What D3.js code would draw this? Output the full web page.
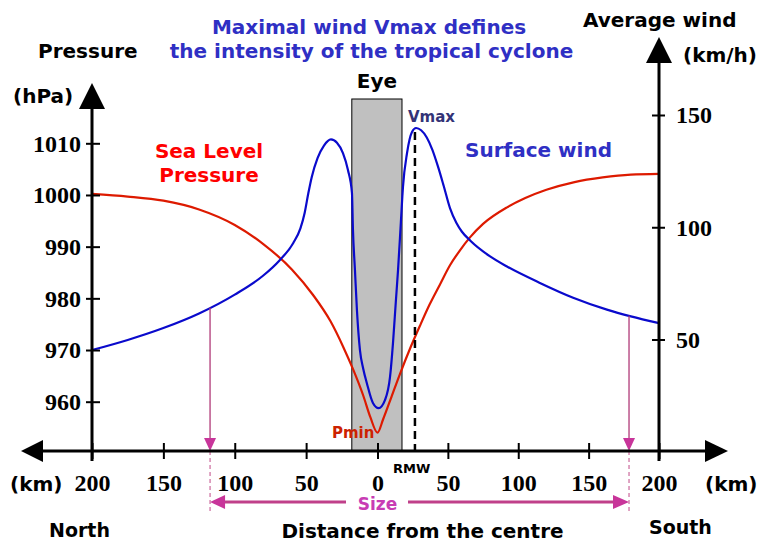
<!DOCTYPE html>
<html><head><meta charset="utf-8">
<script src="https://cdn.jsdelivr.net/npm/d3@7/dist/d3.min.js"></script>
<style>
html,body{margin:0;padding:0;background:#fff;}
svg{display:block;}
.sans{font-family:"DejaVu Sans",sans-serif;font-weight:bold;}
.num{font-family:"Liberation Serif","Times New Roman",serif;font-weight:bold;font-size:24px;}
</style>
</head><body>
<script>
// ---- data ----
const distanceTicks = [-200,-150,-100,-50,0,50,100,150,200];
const pressureTicks = [960,970,980,990,1000,1010];
const windTicks = [50,100,150];

const pressureDist = [-200,-175,-150,-125,-100,-80,-60,-45,-33,-24,-17,-10,-5,0,4,10,16,23,30,37,44.4,51.5,58.6,65.7,75,92,105,120,140,160,180,200];
const pressureValues = [1000.2,999.7,998.9,997.2,994.2,990.5,985.6,980.6,975.6,970.6,966.2,961.2,957.0,954.0,956.6,961.0,965.4,970.2,974.6,978.8,982.7,986.4,989.3,991.8,994.4,997.6,999.4,1001.0,1002.5,1003.4,1003.95,1004.1];

const windDist = [-200,-175,-150,-125,-100,-80,-69,-59,-54,-51,-48.5,-46,-42,-37.5,-32.6,-28.4,-24.2,-20.7,-17.9,-17.2,-15.8,-14.4,-12.3,-10,-7.4,-3.2,0.8,5.3,8.9,11,13.1,14.6,16.7,18.1,21,24.5,27.4,31,35,39,43,47,51.5,56,60,66,80,92,115,139,163,180,200];
const windValues = [45.3,49.8,55.1,61.6,70.0,78.5,85.0,93.0,99.5,106.5,115.0,122.5,130.8,136.4,139.1,137.6,133.0,125.5,115.3,99.0,81.0,63.0,45.3,37.0,30.4,21.7,19.4,23.0,33.3,48.4,67.6,81.0,103.3,118.0,133.1,142.4,144.2,143.2,140.0,134.5,127.0,118.5,108.5,102.0,98.0,94.0,87.0,82.5,75.3,68.6,63.3,60.3,57.3];

const eyeRange = [-18, 17.4];      // km
const rmwKm = 26.6;                 // radius of maximum wind
const vmaxValue = 144.2;
const sizeKm = [-117.3, 178.7];

// ---- chart ----
const W = 764, H = 544;
const svg = d3.select("body").append("svg").attr("width", W).attr("height", H);

const x = d3.scaleLinear().domain([-200,0,200]).range([92,377.5,659]);
const yP = d3.scaleLinear().domain([960,1010]).range([401.7,143.3]);
const yW = d3.scaleLinear().domain([50,150]).range([339.5,115]);
const axisY = 451;

const BLUE = "#0a0acc", RED = "#dd1a00", MAG = "#c8359a", TBLUE = "#2f2fc4";

function interp(xs, ys, v){
  for (let i=0;i<xs.length-1;i++){
    if (v>=xs[i] && v<=xs[i+1]) { const t=(v-xs[i])/(xs[i+1]-xs[i]); return ys[i]+t*(ys[i+1]-ys[i]); }
  }
  return ys[ys.length-1];
}

// Eye box
svg.append("rect")
  .attr("x", x(eyeRange[0])).attr("y", 99)
  .attr("width", x(eyeRange[1]) - x(eyeRange[0])).attr("height", axisY - 99)
  .attr("fill", "#c0c0c0").attr("stroke", "#000").attr("stroke-width", 1);

// curves
const pLine = d3.line().x((d,i)=>x(pressureDist[i])).y(d=>yP(d)).curve(d3.curveMonotoneX);
const wLine = d3.line().x((d,i)=>x(windDist[i])).y(d=>yW(d)).curve(d3.curveMonotoneX);

svg.append("path").attr("d", pLine(pressureValues)).attr("fill","none").attr("stroke",RED).attr("stroke-width",2.2);
svg.append("path").attr("d", wLine(windValues)).attr("fill","none").attr("stroke",BLUE).attr("stroke-width",2.2);

// RMW dashed line
svg.append("line").attr("x1", x(rmwKm)).attr("x2", x(rmwKm))
  .attr("y1", yW(vmaxValue)+4).attr("y2", axisY)
  .attr("stroke","#000").attr("stroke-width",2.5).attr("stroke-dasharray","8,5");

// Size markers (vertical)
sizeKm.forEach(k => {
  const xv = x(k);
  const yTop = yW(interp(windDist, windValues, k));
  svg.append("line").attr("x1",xv).attr("x2",xv).attr("y1",yTop).attr("y2",axisY-10)
    .attr("stroke","#b03a78").attr("stroke-width",1.3);
  svg.append("line").attr("x1",xv).attr("x2",xv).attr("y1",axisY).attr("y2",511)
    .attr("stroke","#c04a88").attr("stroke-width",1).attr("stroke-dasharray","4,3");
  svg.append("path").attr("d", `M${xv},${axisY} L${xv-6},${axisY-13} L${xv+6},${axisY-13} Z`).attr("fill",MAG);
});

// Size horizontal arrow
const sizeY = 502;
const xl = x(sizeKm[0]), xr = x(sizeKm[1]);
svg.append("line").attr("x1", xl+14).attr("x2", 346).attr("y1", sizeY).attr("y2", sizeY).attr("stroke","#c0408a").attr("stroke-width",3);
svg.append("line").attr("x1", 408).attr("x2", xr-14).attr("y1", sizeY).attr("y2", sizeY).attr("stroke","#c0408a").attr("stroke-width",3);
svg.append("path").attr("d", `M${xl},${sizeY} L${xl+15},${sizeY-7} L${xl+15},${sizeY+7} Z`).attr("fill",MAG);
svg.append("path").attr("d", `M${xr},${sizeY} L${xr-16},${sizeY-7} L${xr-16},${sizeY+7} Z`).attr("fill",MAG);
svg.append("text").attr("class","sans").attr("x", 377.5).attr("y", 510).attr("text-anchor","middle")
  .attr("font-size",17).attr("fill","#c83cb4").text("Size");

// ---- axes ----
svg.append("line").attr("x1",40).attr("x2",708).attr("y1",axisY).attr("y2",axisY).attr("stroke","#000").attr("stroke-width",3);
svg.append("path").attr("d",`M21,${axisY} L43,${axisY-11} L43,${axisY+11} Z`).attr("fill","#000");
svg.append("path").attr("d",`M728,${axisY} L705,${axisY-11} L705,${axisY+11} Z`).attr("fill","#000");

svg.append("line").attr("x1",x(-200)).attr("x2",x(-200)).attr("y1",106).attr("y2",461).attr("stroke","#000").attr("stroke-width",3);
svg.append("path").attr("d",`M${x(-200)},83 L${x(-200)-13},109 L${x(-200)+13},109 Z`).attr("fill","#000");
svg.append("line").attr("x1",x(200)).attr("x2",x(200)).attr("y1",60).attr("y2",461).attr("stroke","#000").attr("stroke-width",3);
svg.append("path").attr("d",`M${x(200)},37 L${x(200)-13},63 L${x(200)+13},63 Z`).attr("fill","#000");

// x axis ticks
const gx = svg.append("g").attr("transform",`translate(0,${axisY})`)
  .call(d3.axisBottom(x).tickValues(distanceTicks).tickFormat(d=>Math.abs(d)).tickSize(8));
gx.select(".domain").remove();
gx.selectAll(".tick line").attr("y1",-8).attr("y2",8).attr("stroke","#000").attr("stroke-width",2);
gx.selectAll(".tick text").attr("class","num").attr("y",40).attr("dy",null).attr("fill","#000");

// left pressure axis
const gl = svg.append("g").attr("transform",`translate(${x(-200)},0)`)
  .call(d3.axisLeft(yP).tickValues(pressureTicks).tickFormat(d3.format("d")).tickSize(6));
gl.select(".domain").remove();
gl.selectAll(".tick line").attr("x1",8).attr("x2",-6).attr("stroke","#000").attr("stroke-width",2);
gl.selectAll(".tick text").attr("class","num").attr("x",-11).attr("dy","0.33em").attr("fill","#000");

// right wind axis
const gr = svg.append("g").attr("transform",`translate(${x(200)},0)`)
  .call(d3.axisRight(yW).tickValues(windTicks).tickFormat(d3.format("d")).tickSize(6));
gr.select(".domain").remove();
gr.selectAll(".tick line").attr("x1",-7).attr("x2",6).attr("stroke","#000").attr("stroke-width",2);
gr.selectAll(".tick text").attr("class","num").attr("x",17).attr("dy","0.33em").attr("fill","#000");

// ---- texts ----
function txt(s, xx, yy, opts={}) {
  return svg.append("text").attr("class","sans").attr("x",xx).attr("y",yy)
    .attr("font-size", opts.size||20).attr("fill", opts.fill||"#000")
    .attr("text-anchor", opts.anchor||"start")
    .attr("font-weight", opts.weight||"bold").text(s);
}
txt("Maximal wind Vmax defines", 369, 34, {fill:TBLUE, anchor:"middle"});
txt("the intensity of the tropical cyclone", 371.5, 58, {fill:TBLUE, anchor:"middle"});
txt("Pressure", 38, 58);
txt("(hPa)", 13, 103);
txt("Average wind", 583, 27);
txt("(km/h)", 683, 62);
txt("Sea Level", 209, 158, {fill:"#ff0000", anchor:"middle"});
txt("Pressure", 209, 182, {fill:"#ff0000", anchor:"middle"});
txt("Surface wind", 465, 157, {fill:TBLUE});
txt("Eye", 377, 88, {anchor:"middle"});
txt("(km)", 10, 491);
txt("(km)", 705, 491);
txt("North", 49, 537, {size:19});
txt("South", 649, 534, {size:19});
txt("Distance from the centre", 422.5, 538, {anchor:"middle"});
txt("RMW", 393, 473, {size:13});
txt("Vmax", 408, 122, {size:15, weight:"normal", fill:"#333377"});
txt("Pmin", 332, 438, {size:15, weight:"normal", fill:"#cc2200"});
</script>
</body></html>
